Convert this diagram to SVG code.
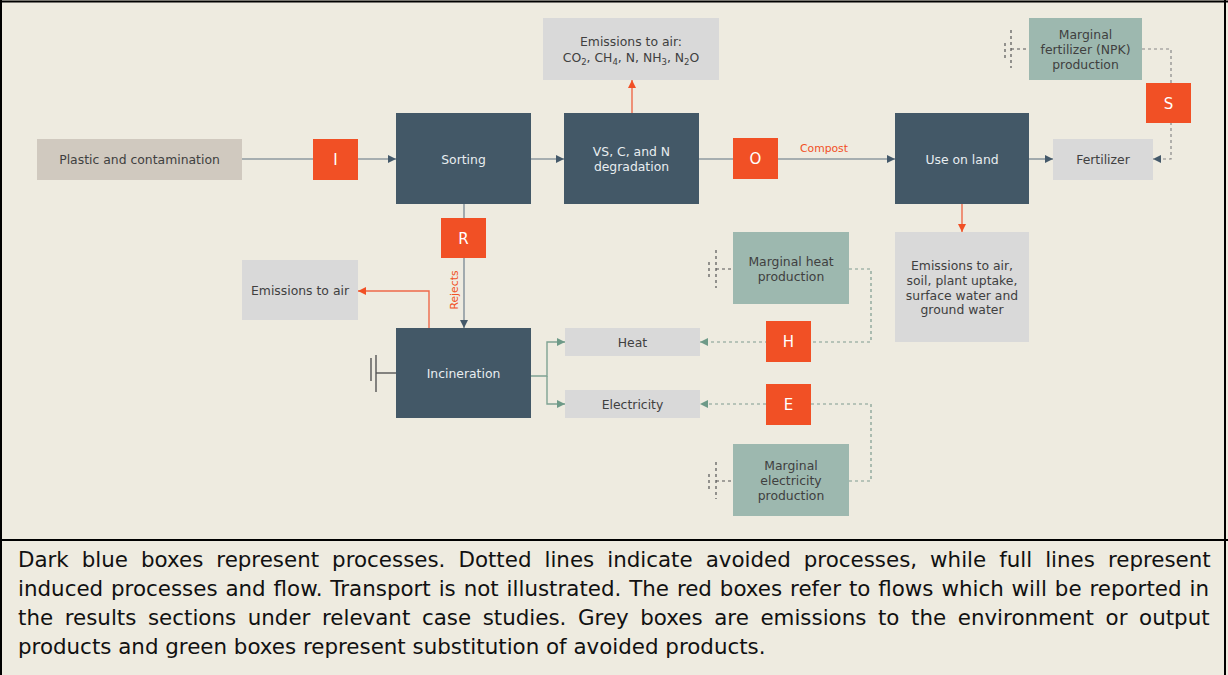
<svg xmlns="http://www.w3.org/2000/svg" width="1228" height="675" viewBox="0 0 1228 675">
<defs>
<style>
.bg{fill:#EEEBE0}
.proc{fill:#435867}
.grey{fill:#D9D9D9}
.raw{fill:#D0C9BF}
.green{fill:#9DB8AF}
.red{fill:#F15025}
text{font-family:"DejaVu Sans","Verdana",sans-serif}
.t{font-size:12.4px;fill:#404040;text-anchor:middle}
.tp{font-size:12.4px;fill:#E8EDF0;text-anchor:middle}
.tr{font-size:15px;fill:#FFFFFF;text-anchor:middle}
.lbl{font-size:10.8px;fill:#F15025}
.cap{font-size:21.4px;fill:#111111}
.ln{fill:none;stroke:#8E9AA1;stroke-width:1.6}
.or{fill:none;stroke:#EE6A4A;stroke-width:1.4}
.gr{fill:none;stroke:#7FA393;stroke-width:1.4}
.dg{fill:none;stroke:#7E9C8F;stroke-width:1.2;stroke-dasharray:3 3}
.dk{fill:none;stroke:#888888;stroke-width:1.2;stroke-dasharray:3 3}
.stub{fill:none;stroke:#555555;stroke-width:1.2;stroke-dasharray:3 3}
.stubs{fill:none;stroke:#555555;stroke-width:1.4}
</style>
<marker id="aDark" markerUnits="userSpaceOnUse" markerWidth="10" markerHeight="10" refX="9" refY="5" orient="auto"><path d="M1,1 L9,5 L1,9 Z" fill="#44596A"/></marker>
<marker id="aRed" markerUnits="userSpaceOnUse" markerWidth="10" markerHeight="10" refX="9" refY="5" orient="auto"><path d="M1,1 L9,5 L1,9 Z" fill="#F15025"/></marker>
<marker id="aGreen" markerUnits="userSpaceOnUse" markerWidth="10" markerHeight="10" refX="9" refY="5" orient="auto"><path d="M1,1 L9,5 L1,9 Z" fill="#6E9A88"/></marker>
</defs>
<rect class="bg" x="0" y="0" width="1228" height="675"/>

<g id="connectors">
<line class="ln" x1="242" y1="159" x2="396" y2="159" marker-end="url(#aDark)"/>
<line class="ln" x1="531" y1="159" x2="564" y2="159" marker-end="url(#aDark)"/>
<line class="ln" x1="699" y1="159" x2="895" y2="159" marker-end="url(#aDark)"/>
<line class="ln" x1="1029" y1="159" x2="1053" y2="159" marker-end="url(#aDark)"/>
<line class="ln" x1="464" y1="204" x2="464" y2="328" marker-end="url(#aDark)"/>
<line class="or" x1="632" y1="113" x2="632" y2="80" marker-end="url(#aRed)"/>
<line class="or" x1="962" y1="204" x2="962" y2="232" marker-end="url(#aRed)"/>
<polyline class="or" points="429,328 429,291 358,291" marker-end="url(#aRed)"/>
<polyline class="gr" points="531,376 547,376 547,342 565,342" marker-end="url(#aGreen)"/>
<polyline class="gr" points="547,376 547,404 565,404" marker-end="url(#aGreen)"/>
<line class="stubs" x1="376" y1="373" x2="396" y2="373"/>
<line class="stubs" x1="376" y1="355" x2="376" y2="392"/>
<line class="stubs" x1="371" y1="358" x2="371" y2="381"/>
<polyline class="dk" points="1142,49 1171,49 1171,159 1153,159" marker-end="url(#aDark)"/>
<line class="stub" x1="1011" y1="49" x2="1029" y2="49"/>
<line class="stub" x1="1011" y1="30" x2="1011" y2="68"/>
<line class="stub" x1="1005" y1="43" x2="1005" y2="59"/>
<polyline class="dg" points="849,269 871,269 871,342 700,342" marker-end="url(#aGreen)"/>
<line class="stub" x1="716" y1="269" x2="733" y2="269"/>
<line class="stub" x1="716" y1="250" x2="716" y2="288"/>
<line class="stub" x1="709" y1="262" x2="709" y2="277"/>
<polyline class="dg" points="849,481 871,481 871,404 700,404" marker-end="url(#aGreen)"/>
<line class="stub" x1="716" y1="481" x2="733" y2="481"/>
<line class="stub" x1="716" y1="462" x2="716" y2="499"/>
<line class="stub" x1="709" y1="474" x2="709" y2="489"/>
<text class="lbl" x="800" y="152">Compost</text>
<text class="lbl" transform="translate(458,290) rotate(-90)" text-anchor="middle">Rejects</text>
</g>

<g id="plastic"><rect class="raw" x="37" y="139" width="205" height="41"/><text class="t" x="139.5" y="163.5">Plastic and contamination</text></g>
<g id="flowI"><rect class="red" x="313" y="139" width="45" height="41"/><text class="tr" x="335.5" y="165">I</text></g>
<g id="sorting"><rect class="proc" x="396" y="113" width="135" height="91"/><text class="tp" x="463.5" y="163.5">Sorting</text></g>
<g id="degradation"><rect class="proc" x="564" y="113" width="135" height="91"/><text class="tp" x="631.5" y="156">VS, C, and N</text><text class="tp" x="631.5" y="170.5">degradation</text></g>
<g id="emissionsTop"><rect class="grey" x="543" y="18" width="176" height="62"/><text class="t" x="631" y="46">Emissions to air:</text><text class="t" x="631" y="61.5">CO<tspan font-size="8.5" dy="3">2</tspan><tspan dy="-3">, CH</tspan><tspan font-size="8.5" dy="3">4</tspan><tspan dy="-3">, N, NH</tspan><tspan font-size="8.5" dy="3">3</tspan><tspan dy="-3">, N</tspan><tspan font-size="8.5" dy="3">2</tspan><tspan dy="-3">O</tspan></text></g>
<g id="flowO"><rect class="red" x="733" y="138" width="45" height="41"/><text class="tr" x="755.5" y="164">O</text></g>
<g id="useOnLand"><rect class="proc" x="895" y="113" width="134" height="91"/><text class="tp" x="962" y="163.5">Use on land</text></g>
<g id="fertilizer"><rect class="grey" x="1053" y="139" width="100" height="41"/><text class="t" x="1103" y="163.5">Fertilizer</text></g>
<g id="npk"><rect class="green" x="1029" y="18" width="113" height="62"/><text class="t" x="1085.5" y="39">Marginal</text><text class="t" x="1085.5" y="54">fertilizer (NPK)</text><text class="t" x="1085.5" y="68.5">production</text></g>
<g id="flowS"><rect class="red" x="1146" y="83" width="45" height="40"/><text class="tr" x="1168.5" y="108.5">S</text></g>
<g id="flowR"><rect class="red" x="441" y="218" width="45" height="40"/><text class="tr" x="463.5" y="243.5">R</text></g>
<g id="emissionsLeft"><rect class="grey" x="242" y="260" width="116" height="60"/><text class="t" x="300" y="295">Emissions to air</text></g>
<g id="incineration"><rect class="proc" x="396" y="328" width="135" height="90"/><text class="tp" x="463.5" y="377.5">Incineration</text></g>
<g id="heat"><rect class="grey" x="565" y="328" width="135" height="28"/><text class="t" x="632.5" y="346.5">Heat</text></g>
<g id="electricity"><rect class="grey" x="565" y="390" width="135" height="28"/><text class="t" x="632.5" y="408.5">Electricity</text></g>
<g id="marginalHeat"><rect class="green" x="733" y="232" width="116" height="72"/><text class="t" x="791" y="265.5">Marginal heat</text><text class="t" x="791" y="280.5">production</text></g>
<g id="flowH"><rect class="red" x="766" y="321" width="45" height="41"/><text class="tr" x="788.5" y="347">H</text></g>
<g id="flowE"><rect class="red" x="766" y="384" width="45" height="41"/><text class="tr" x="788.5" y="410">E</text></g>
<g id="marginalElectricity"><rect class="green" x="733" y="444" width="116" height="72"/><text class="t" x="791" y="469.5">Marginal</text><text class="t" x="791" y="484.5">electricity</text><text class="t" x="791" y="499.5">production</text></g>
<g id="emissionsBottom"><rect class="grey" x="895" y="232" width="134" height="110"/><text class="t" x="962" y="269.5">Emissions to air,</text><text class="t" x="962" y="284.5">soil, plant uptake,</text><text class="t" x="962" y="299.5">surface water and</text><text class="t" x="962" y="314">ground water</text></g>

<g id="caption">
<text class="cap" x="18" y="567" word-spacing="6.2">Dark blue boxes represent processes. Dotted lines indicate avoided processes, while full lines represent</text>
<text class="cap" x="18" y="596" word-spacing="1.1">induced processes and flow. Transport is not illustrated. The red boxes refer to flows which will be reported in</text>
<text class="cap" x="18" y="625" word-spacing="4.8">the results sections under relevant case studies. Grey boxes are emissions to the environment or output</text>
<text class="cap" x="18" y="654">products and green boxes represent substitution of avoided products.</text>
</g>

<g id="frame" fill="none" stroke="#000000" stroke-width="2">
<line x1="1" y1="0" x2="1" y2="675"/>
<line x1="1225" y1="0" x2="1225" y2="675"/>
<line x1="0" y1="1.5" x2="1228" y2="1.5"/>
<line x1="0" y1="540" x2="1228" y2="540"/>
</g>
</svg>
